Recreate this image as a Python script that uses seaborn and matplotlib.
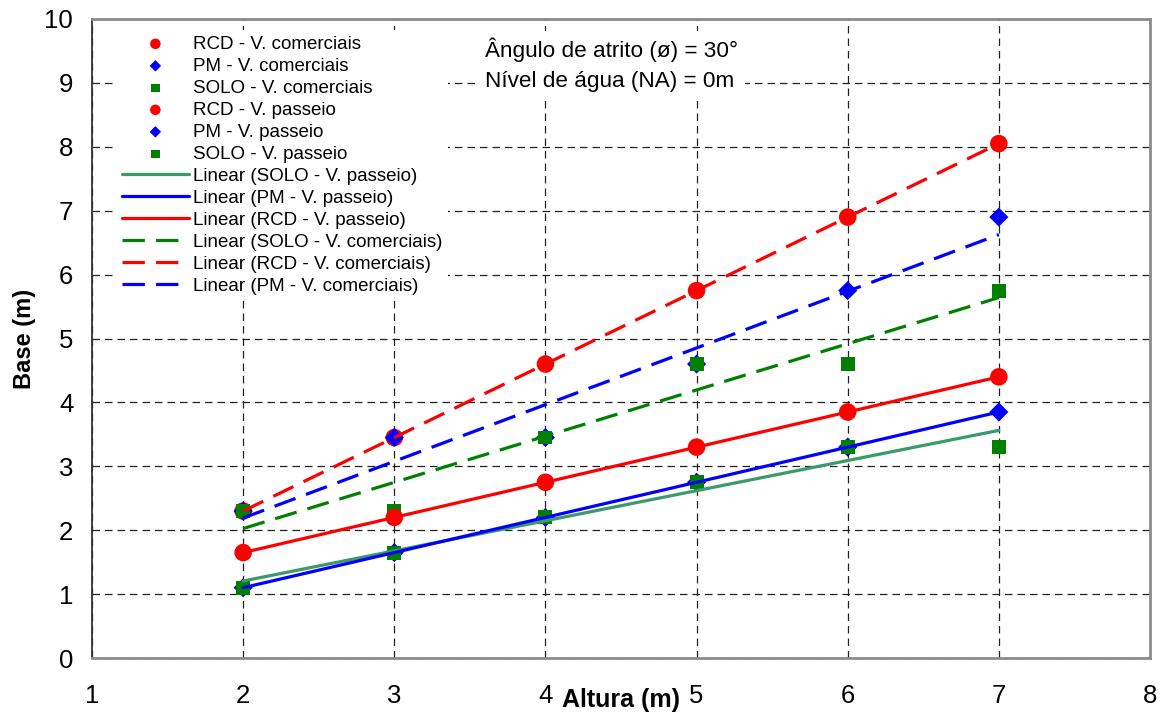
import numpy as np
import pandas as pd
import matplotlib
matplotlib.use("Agg")
import matplotlib.pyplot as plt
import seaborn as sns

# Wall height (m)
altura = [2, 3, 4, 5, 6, 7]

# Required base width (m) for each backfill material / traffic load
rcd_comerciais = [2.30, 3.45, 4.60, 5.75, 6.90, 8.05]
pm_comerciais = [2.30, 3.45, 3.45, 4.60, 5.75, 6.90]
solo_comerciais = [2.30, 2.30, 3.45, 4.60, 4.60, 5.75]
rcd_passeio = [1.65, 2.20, 2.75, 3.30, 3.85, 4.40]
pm_passeio = [1.10, 1.65, 2.20, 2.75, 3.30, 3.85]
solo_passeio = [1.10, 1.65, 2.20, 2.75, 3.30, 3.30]

x_ticks = [1, 2, 3, 4, 5, 6, 7, 8]
y_ticks = [0, 1, 2, 3, 4, 5, 6, 7, 8, 9, 10]

sns.set_style("white")
plt.rcParams["font.family"] = ["Liberation Sans", "DejaVu Sans"]
plt.rcParams["text.color"] = "black"
plt.rcParams["axes.labelcolor"] = "black"
plt.rcParams["xtick.color"] = "black"
plt.rcParams["ytick.color"] = "black"

RED = "#FF0000"
BLUE = "#0000FF"
GREEN = "#008000"
SEA = "#3A9A6A"

fig = plt.figure(figsize=(11.62, 7.18), dpi=100)
ax = fig.add_axes([92 / 1162, 1 - 658 / 718, 1058 / 1162, 639 / 718])

series = [
    ("RCD - V. comerciais", rcd_comerciais, RED, "o", 160),
    ("PM - V. comerciais", pm_comerciais, BLUE, "D", 95),
    ("SOLO - V. comerciais", solo_comerciais, GREEN, "s", 100),
    ("RCD - V. passeio", rcd_passeio, RED, "o", 160),
    ("PM - V. passeio", pm_passeio, BLUE, "D", 95),
    ("SOLO - V. passeio", solo_passeio, GREEN, "s", 100),
]

for i, (name, vals, color, marker, size) in enumerate(series):
    df = pd.DataFrame({"Altura": altura, "Base": vals})
    sns.scatterplot(data=df, x="Altura", y="Base", color=color, marker=marker,
                    s=size, linewidth=0, edgecolor="none", label=name,
                    zorder=3 + i * 0.01, ax=ax)

solid = "-"
dashed = (0, (7, 3.5))
trends = [
    ("Linear (SOLO - V. passeio)", solo_passeio, SEA, solid),
    ("Linear (PM - V. passeio)", pm_passeio, BLUE, solid),
    ("Linear (RCD - V. passeio)", rcd_passeio, RED, solid),
    ("Linear (SOLO - V. comerciais)", solo_comerciais, GREEN, dashed),
    ("Linear (RCD - V. comerciais)", rcd_comerciais, RED, dashed),
    ("Linear (PM - V. comerciais)", pm_comerciais, BLUE, dashed),
]

trend_handles = []
for name, vals, color, ls in trends:
    df = pd.DataFrame({"Altura": altura, "Base": vals})
    sns.regplot(data=df, x="Altura", y="Base", scatter=False, ci=None,
                color=color, ax=ax,
                line_kws={"linestyle": ls, "linewidth": 2.3, "zorder": 4})
    line = ax.lines[-1]
    line.set_label(name)
    trend_handles.append(line)

ax.set_xlim(1, 8)
ax.set_ylim(0, 10)
ax.set_xticks(x_ticks)
ax.set_yticks(y_ticks)

ax.grid(True, color="#222222", linestyle=(0, (6, 4)), linewidth=0.9)
ax.set_axisbelow(True)

for side in ["top", "right", "bottom"]:
    ax.spines[side].set_color("#8c8c8c")
    ax.spines[side].set_linewidth(2)
ax.spines["left"].set_color("#333333")
ax.spines["left"].set_linewidth(1.3)

ax.tick_params(axis="x", direction="out", length=7, width=1, color="#333333",
               labelsize=18.5, labelcolor="black", pad=12)
ax.tick_params(axis="y", direction="inout", length=11, width=1, color="#333333",
               labelsize=18.5, labelcolor="black", pad=8)

ax.set_xlabel("Altura (m)", fontsize=18, fontweight="bold", color="black")
ax.set_ylabel("Base (m)", fontsize=17, fontweight="bold", color="black")
ax.xaxis.label.set_va("center")
ax.xaxis.set_label_coords(0.5, -(700 - 658) / 639)
ax.yaxis.label.set_va("center")
ax.yaxis.set_label_coords(-(92 - 25) / 1058, 0.5)

scatter_handles, scatter_labels = ax.get_legend_handles_labels()
scatter_handles = scatter_handles[:6]
scatter_labels = scatter_labels[:6]
handles = scatter_handles + trend_handles
labels = scatter_labels + [t[0] for t in trends]
leg = ax.legend(handles, labels, loc="upper left",
                bbox_to_anchor=((116 - 92) / 1058, 1 - (30 - 19) / 639),
                fontsize=13.5, markerscale=0.6, handlelength=3.6,
                handletextpad=0.2, labelspacing=0.26, borderpad=0.3,
                borderaxespad=0, frameon=True, fancybox=False,
                facecolor="white", edgecolor="none", framealpha=1,
                labelcolor="black")
leg.set_zorder(10)

ax.text((485 - 92) / 1058, 1 - (38 - 19) / 639,
        "Ângulo de atrito (ø) = 30°\nNível de água (NA) = 0m",
        transform=ax.transAxes, fontsize=16.2, va="top", ha="left",
        linespacing=1.54, zorder=10, color="black",
        bbox=dict(boxstyle="square,pad=0.3", facecolor="white",
                  edgecolor="none"))

fig.savefig("out.png", dpi=100)
